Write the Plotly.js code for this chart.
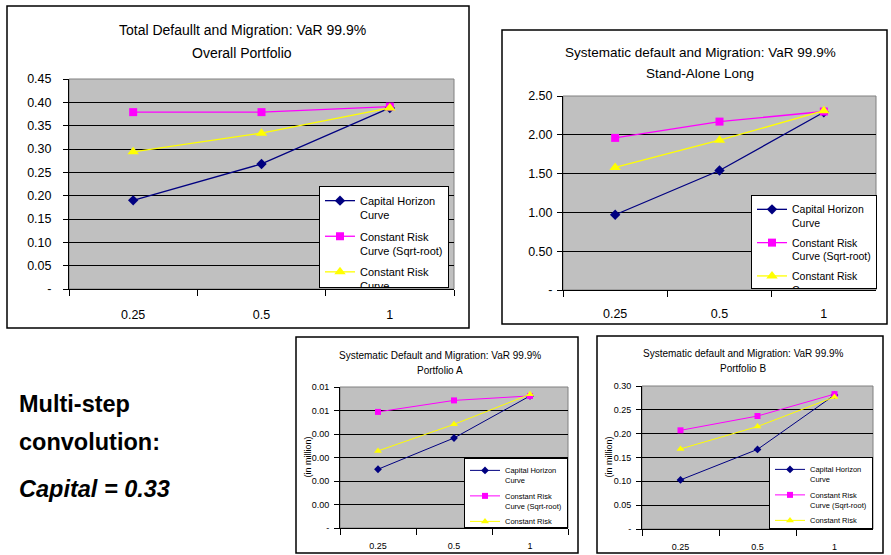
<!DOCTYPE html>
<html><head><meta charset="utf-8">
<script src="https://cdn.plot.ly/plotly-3.0.1.min.js"></script>
<style>html,body{margin:0;padding:0;background:#fff}#chart{width:891px;height:555px}
.legend .scrollbar{display:none !important}</style>
</head><body><div id="chart"></div>
<script>
// ---------- DATA ----------
const categories = ['0.25', '0.5', '1'];
const seriesNames = ['Capital Horizon<br>Curve', 'Constant Risk<br>Curve (Sqrt-root)', 'Constant Risk<br>Curve'];

const overallCapital = [0.190, 0.268, 0.388];
const overallSqrt    = [0.379, 0.379, 0.391];
const overallConst   = [0.294, 0.334, 0.388];

const standCapital = [0.97, 1.54, 2.29];
const standSqrt    = [1.96, 2.17, 2.30];
const standConst   = [1.58, 1.93, 2.31];

const portACapital = [0.00250, 0.00383, 0.00562];
const portASqrt    = [0.00494, 0.00543, 0.00562];
const portAConst   = [0.00328, 0.00441, 0.00569];

const portBCapital = [0.103, 0.167, 0.281];
const portBSqrt    = [0.207, 0.237, 0.283];
const portBConst   = [0.168, 0.215, 0.277];

const overallTickVals = [0, 0.05, 0.10, 0.15, 0.20, 0.25, 0.30, 0.35, 0.40, 0.45];
const overallTickText = ['-', '0.05', '0.10', '0.15', '0.20', '0.25', '0.30', '0.35', '0.40', '0.45'];
const standTickVals = [0, 0.5, 1.0, 1.5, 2.0, 2.5];
const standTickText = ['-', '0.50', '1.00', '1.50', '2.00', '2.50'];
const portATickVals = [0, 0.001, 0.002, 0.003, 0.004, 0.005, 0.006];
const portATickText = ['-', '0.00', '0.00', '0.00', '0.00', '0.01', '0.01'];
const portBTickVals = [0, 0.05, 0.10, 0.15, 0.20, 0.25, 0.30];
const portBTickText = ['-', '0.05', '0.10', '0.15', '0.20', '0.25', '0.30'];

const titles = [
  ['Total Defaullt and Migration: VaR 99.9%', 'Overall Portfolio'],
  ['Systematic default and Migration: VaR 99.9%', 'Stand-Alone Long'],
  ['Systematic Default and Migration: VaR 99.9%', 'Portfolio A'],
  ['Systematic default and Migration: VaR 99.9%', 'Portfolio B']
];
const yTitle = '(in million)';
const sideText = ['Multi-step', 'convolution:', '<i>Capital = 0.33</i>'];

// ---------- LAYOUT HELPERS ----------
const W = 891, H = 555;
const FONT = 'Arial, "Liberation Sans", sans-serif';
const px = v => v / W;
const py = v => 1 - v / H;
const colors = ['#000080', '#ff00ff', '#ffff00'];
const symbols = ['diamond', 'square', 'triangle-up'];

const panels = [
  {data: [overallCapital, overallSqrt, overallConst], tv: overallTickVals, tt: overallTickText, max: 0.45,
   plot: [69, 79, 454, 289], box: [7, 6, 469, 328], tFont: 14, tx: 242, ty: [30, 53],
   tick: 12.5, standoff: 9, xstand: 14, leg: [449, 186], legH: 102, legFont: 11, gap: 4, ms: [8, 8, 10], lw: 1.3},
  {data: [standCapital, standSqrt, standConst], tv: standTickVals, tt: standTickText, max: 2.5,
   plot: [563, 96, 876, 290], box: [502, 30, 887, 324], tFont: 13.5, tx: 700, ty: [52, 73],
   tick: 12.5, standoff: 2, xstand: 12, leg: [877, 195], legH: 94, legFont: 10.5, gap: 3, ms: [8, 8, 10], lw: 1.3},
  {data: [portACapital, portASqrt, portAConst], tv: portATickVals, tt: portATickText, max: 0.006,
   plot: [340, 387, 568, 528], box: [296, 337, 578, 553], tFont: 10, tx: 440, ty: [355, 370],
   tick: 9, standoff: 3, xstand: 9, leg: [568, 458], legH: 70, legFont: 7.5, gap: 3, ms: [6, 6, 7], lw: 1, ytx: 307},
  {data: [portBCapital, portBSqrt, portBConst], tv: portBTickVals, tt: portBTickText, max: 0.30,
   plot: [642, 386, 873, 529], box: [597, 336, 883, 553], tFont: 10, tx: 743, ty: [353, 368],
   tick: 9, standoff: 3, xstand: 9, leg: [873, 457], legH: 72, legFont: 7.5, gap: 3, ms: [6, 6, 7], lw: 1, ytx: 608}
];

const traces = [];
const layout = {
  width: W, height: H,
  margin: {l: 0, r: 0, t: 0, b: 0},
  paper_bgcolor: '#ffffff',
  plot_bgcolor: '#c0c0c0',
  font: {family: FONT, color: '#000'},
  showlegend: true,
  annotations: [],
  shapes: []
};

panels.forEach((p, i) => {
  const n = i === 0 ? '' : String(i + 1);
  const legName = 'legend' + n;
  const [l, t, r, b] = p.plot;
  p.data.forEach((vals, k) => {
    traces.push({
      type: 'scatter', mode: 'lines+markers',
      x: categories, y: vals,
      xaxis: 'x' + n, yaxis: 'y' + n,
      name: seriesNames[k],
      legend: legName,
      legendgroup: 'g' + i + '_' + k,
      line: {color: colors[k], width: p.lw},
      marker: {symbol: symbols[k], color: colors[k], size: p.ms[k]},
      hoverinfo: 'x+y'
    });
  });
  layout['xaxis' + n] = {
    domain: [px(l), px(r)], anchor: 'y' + n,
    type: 'category', categoryorder: 'array', categoryarray: categories,
    range: [-0.5, 2.5], tickson: 'boundaries',
    ticks: 'outside', ticklen: 6, tickcolor: '#000', tickwidth: 1,
    showline: true, linecolor: '#000', linewidth: 1,
    showgrid: false, zeroline: false,
    ticklabelstandoff: p.xstand,
    tickfont: {size: p.tick, family: FONT, color: '#000'},
    fixedrange: true
  };
  layout['yaxis' + n] = {
    domain: [py(b), py(t)], anchor: 'x' + n,
    range: [0, p.max], tickmode: 'array', tickvals: p.tv, ticktext: p.tt,
    ticks: 'outside', ticklen: 5, tickcolor: '#000', tickwidth: 1,
    showline: true, linecolor: '#000', linewidth: 1,
    showgrid: true, gridcolor: '#000', gridwidth: 1, zeroline: false,
    ticklabelstandoff: p.standoff,
    tickfont: {size: p.tick, family: FONT, color: '#000'},
    fixedrange: true
  };
  layout[legName] = {
    x: px(p.leg[0]), y: py(p.leg[1]), xanchor: 'right', yanchor: 'top',
    xref: 'paper', yref: 'paper', maxheight: p.legH,
    bgcolor: '#ffffff', bordercolor: '#000', borderwidth: 1,
    font: {size: p.legFont, family: FONT, color: '#000'},
    valign: 'top', tracegroupgap: p.gap, itemclick: false, itemdoubleclick: false
  };
  // plot area border
  layout.shapes.push({type: 'rect', xref: 'x' + n + ' domain', yref: 'y' + n + ' domain',
    x0: 0, x1: 1, y0: 0, y1: 1, line: {color: '#808080', width: 1}, layer: 'below'});
  // outer chart frame
  const [bl, bt, br, bb] = p.box;
  layout.shapes.push({type: 'rect', xref: 'paper', yref: 'paper',
    x0: px(bl), x1: px(br), y0: py(bb), y1: py(bt), line: {color: '#000', width: 1.5}});
  // titles
  p.ty.forEach((yy, j) => {
    layout.annotations.push({text: titles[i][j], xref: 'paper', yref: 'paper',
      x: px(p.tx), y: py(yy), xanchor: 'center', yanchor: 'middle', showarrow: false,
      font: {size: p.tFont, family: FONT, color: '#000'}});
  });
  if (p.ytx) {
    layout.annotations.push({text: yTitle, xref: 'paper', yref: 'paper',
      x: px(p.ytx), y: py((t + b) / 2), xanchor: 'center', yanchor: 'middle', showarrow: false,
      textangle: -90, font: {size: 9, family: FONT, color: '#000'}});
  }
});

const sideY = [404, 442, 489];
sideText.forEach((s, j) => {
  layout.annotations.push({text: '<b>' + s + '</b>', xref: 'paper', yref: 'paper',
    x: px(17), y: py(sideY[j]), xanchor: 'left', yanchor: 'middle', showarrow: false,
    font: {size: 23.5, family: FONT, color: '#000'}});
});

Plotly.newPlot('chart', traces, layout, {displayModeBar: false, staticPlot: true});
</script>
</body></html>
